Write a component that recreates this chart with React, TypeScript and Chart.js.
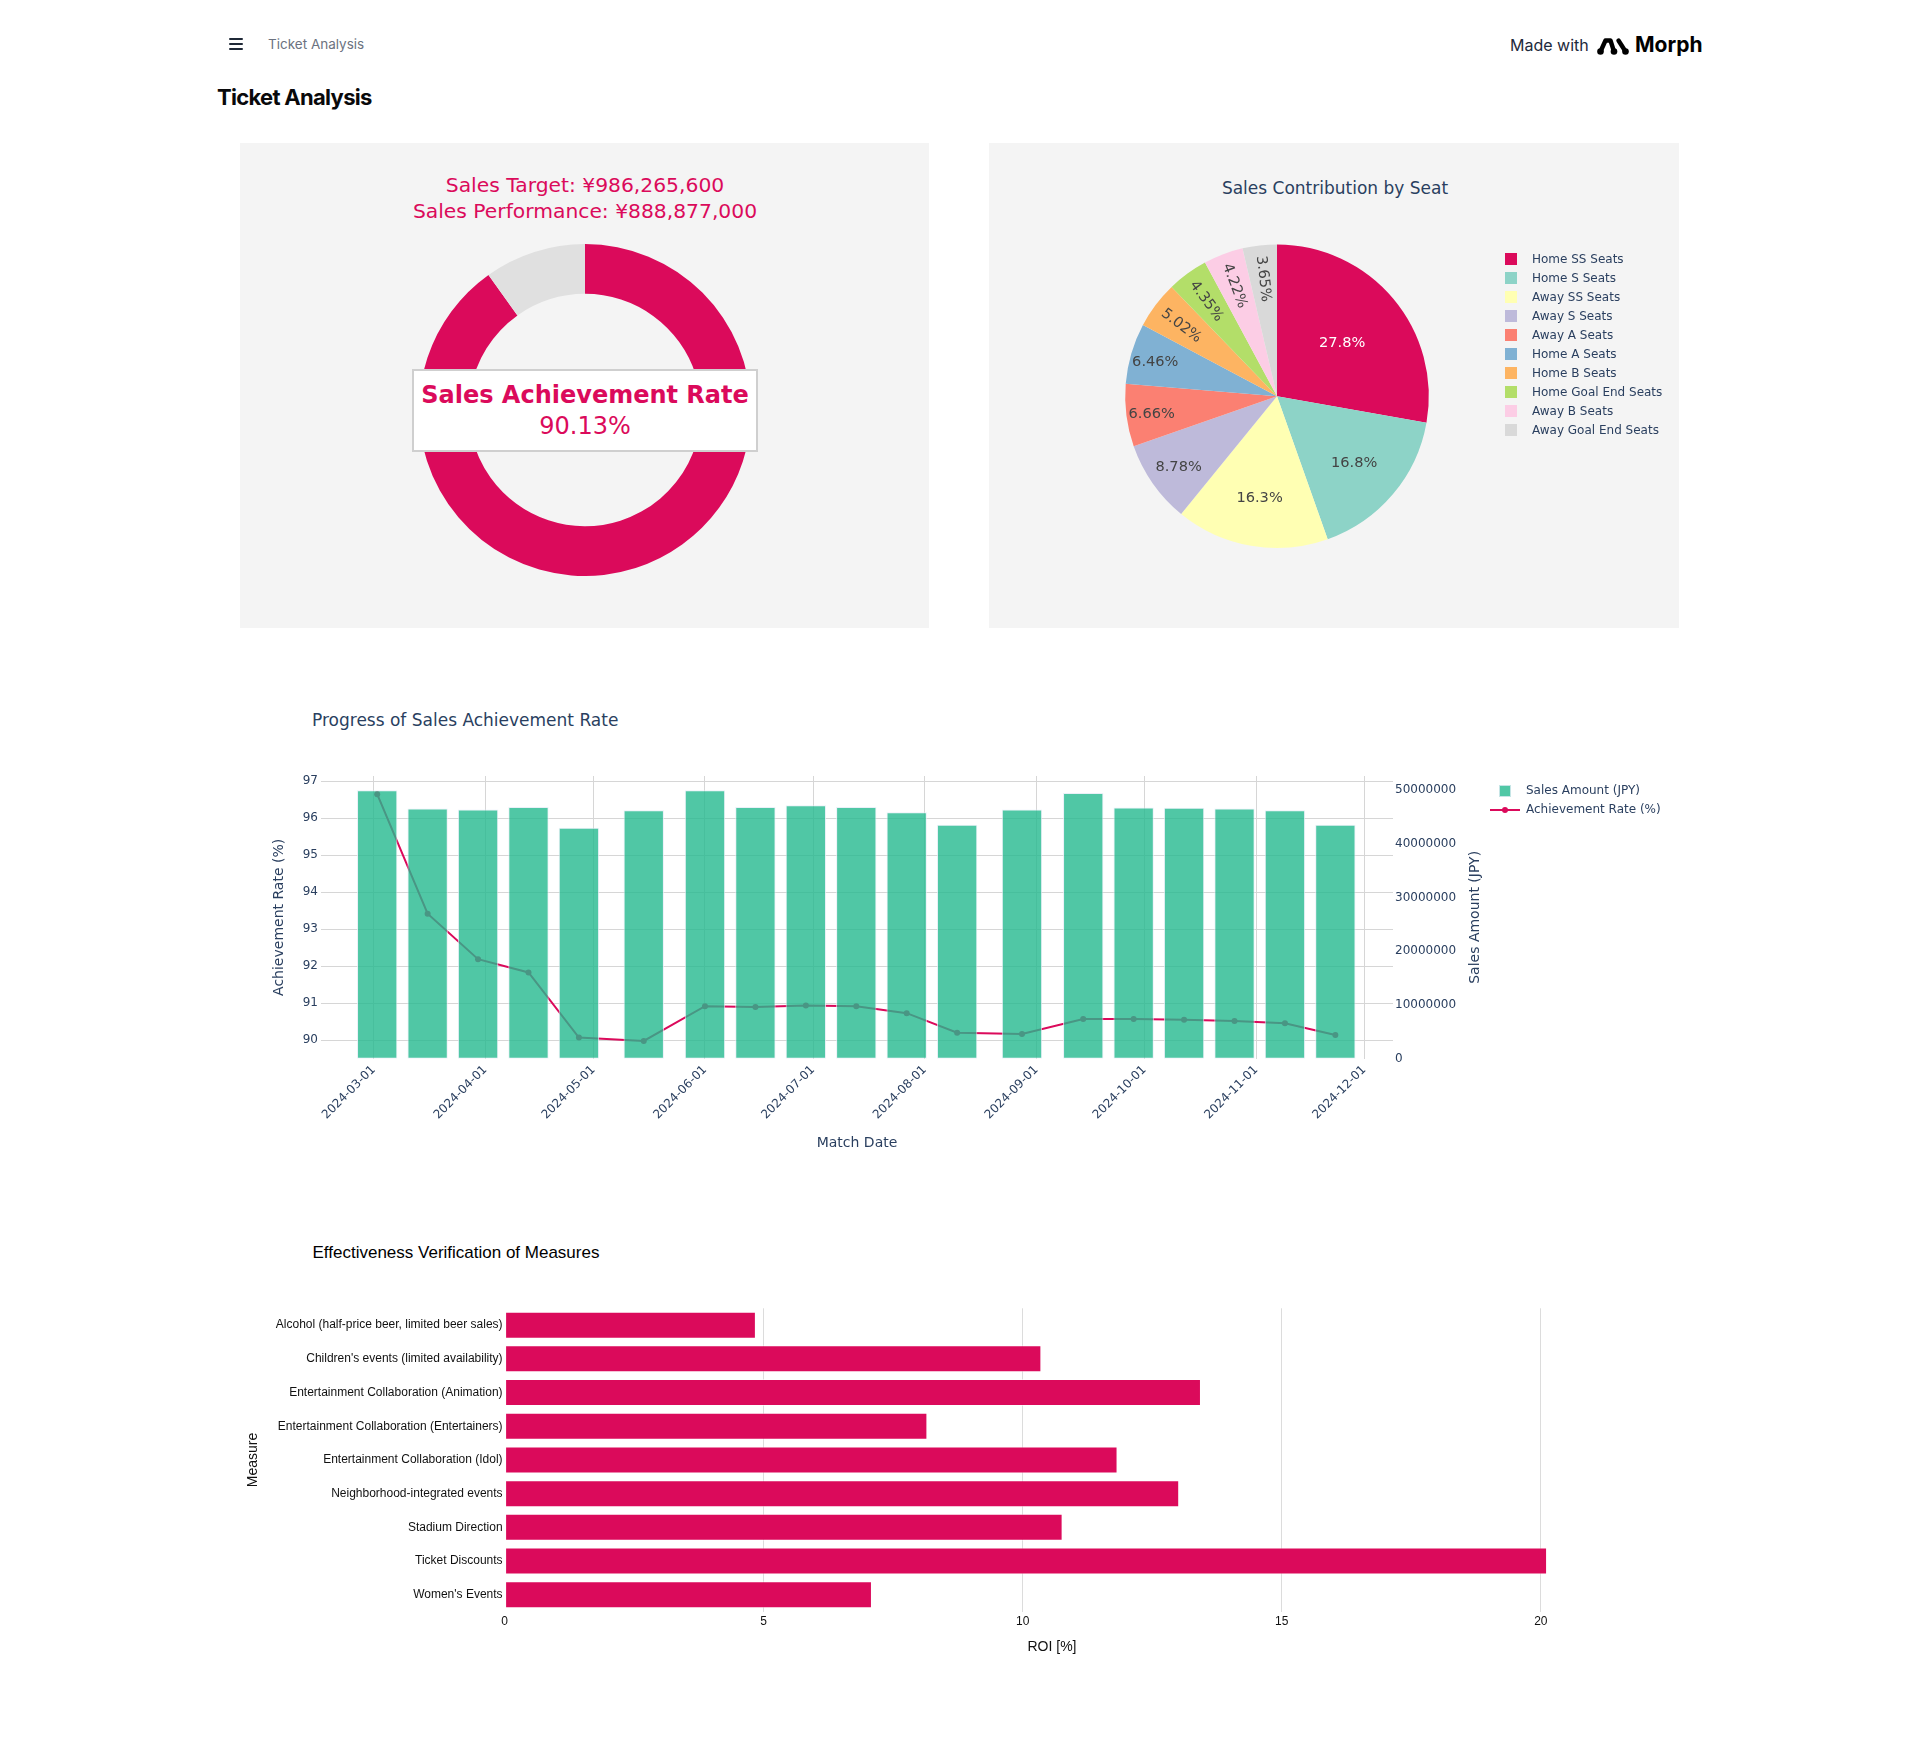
import React, { useEffect, useRef } from 'react';
import { Chart, registerables } from 'chart.js';

Chart.register(...registerables);
Chart.defaults.font.family = '"DejaVu Sans", Verdana, sans-serif';

// ---------- colours / styles ----------
const RED = '#DB0A5B';
const DONUT_REST = '#E0E0E0';
const PLOTLY_TEXT = '#2a3f5f';
const GRID = '#d6d6d6';
const PANEL_BG = '#f4f4f4';
const BAR_TEAL = 'rgba(36,185,143,0.8)';
const BAR_TEAL_EDGE = 'rgba(229,236,246,0.8)';

// ---------- data: sales target ----------
const SALES_TARGET = 986265600;
const SALES_PERFORMANCE = 888877000;

// ---------- data: seat contribution ----------
const SEAT_LABELS = [
  'Home SS Seats',
  'Home S Seats',
  'Away SS Seats',
  'Away S Seats',
  'Away A Seats',
  'Home A Seats',
  'Home B Seats',
  'Home Goal End Seats',
  'Away B Seats',
  'Away Goal End Seats',
];
const SEAT_SHARES = [27.8, 16.8, 16.3, 8.78, 6.66, 6.46, 5.02, 4.35, 4.22, 3.65];
const SEAT_COLORS = [
  '#DB0A5B',
  '#8dd3c7',
  '#ffffb3',
  '#bebada',
  '#fb8072',
  '#80b1d3',
  '#fdb462',
  '#b3de69',
  '#fccde5',
  '#d9d9d9',
];

// ---------- data: progress ----------
const MATCH_DATES = [
  '2024-03-02', '2024-03-16', '2024-03-30', '2024-04-13', '2024-04-27',
  '2024-05-15', '2024-06-01', '2024-06-15', '2024-06-29', '2024-07-13',
  '2024-07-27', '2024-08-10', '2024-08-28', '2024-09-14', '2024-09-28',
  '2024-10-12', '2024-10-26', '2024-11-09', '2024-11-23',
];
const SALES_AMOUNTS = [
  50000000, 46600000, 46400000, 46900000, 43000000,
  46300000, 50000000, 46900000, 47200000, 46900000,
  45900000, 43600000, 46400000, 49500000, 46800000,
  46750000, 46600000, 46300000, 43600000,
];
const ACHIEVEMENT_RATES = [
  96.65, 93.42, 92.19, 91.83, 90.07,
  89.98, 90.92, 90.90, 90.94, 90.92,
  90.73, 90.20, 90.17, 90.57, 90.57,
  90.55, 90.52, 90.46, 90.14,
];
const DATE_TICKS = [
  '2024-03-01', '2024-04-01', '2024-05-01', '2024-06-01', '2024-07-01',
  '2024-08-01', '2024-09-01', '2024-10-01', '2024-11-01', '2024-12-01',
];
const RATE_TICKS = [90, 91, 92, 93, 94, 95, 96, 97];
const AMOUNT_TICKS = [0, 10000000, 20000000, 30000000, 40000000, 50000000];

// ---------- data: measures ----------
const MEASURES = [
  'Alcohol (half-price beer, limited beer sales)',
  "Children's events (limited availability)",
  'Entertainment Collaboration (Animation)',
  'Entertainment Collaboration (Entertainers)',
  'Entertainment Collaboration (Idol)',
  'Neighborhood-integrated events',
  'Stadium Direction',
  'Ticket Discounts',
  "Women's Events",
];
const ROI_VALUES = [4.85, 10.36, 13.44, 8.16, 11.83, 13.02, 10.77, 20.12, 7.09];
const ROI_TICKS = [0, 5, 10, 15, 20];

// ---------- helpers ----------
const dayNum = (s: string) => {
  const [y, m, d] = s.split('-').map(Number);
  return Date.UTC(y, m - 1, d) / 86400000;
};
const fmtDay = (v: number) => new Date(Math.round(v) * 86400000).toISOString().slice(0, 10);
const yen = (v: number) => '¥' + v.toLocaleString('en-US');

function isDark(hex: string) {
  const h = hex.replace('#', '');
  const r = parseInt(h.slice(0, 2), 16), g = parseInt(h.slice(2, 4), 16), b = parseInt(h.slice(4, 6), 16);
  return (0.299 * r + 0.587 * g + 0.114 * b) / 255 < 0.5;
}

function legendSquare(fill: string, stroke?: string) {
  const c = document.createElement('canvas');
  c.width = 30;
  c.height = 12;
  const g = c.getContext('2d')!;
  g.fillStyle = fill;
  g.fillRect(9, 0, 12, 12);
  if (stroke) {
    g.strokeStyle = stroke;
    g.lineWidth = 1;
    g.strokeRect(9.5, 0.5, 11, 11);
  }
  return c;
}
function legendLine(color: string) {
  const c = document.createElement('canvas');
  c.width = 30;
  c.height = 12;
  const g = c.getContext('2d')!;
  g.strokeStyle = color;
  g.lineWidth = 2;
  g.beginPath();
  g.moveTo(0, 6);
  g.lineTo(30, 6);
  g.stroke();
  g.fillStyle = color;
  g.beginPath();
  g.arc(15, 6, 3, 0, Math.PI * 2);
  g.fill();
  return c;
}

function ChartCanvas({ left, top, width, height, config }: any) {
  const ref = useRef<HTMLCanvasElement>(null);
  useEffect(() => {
    const chart = new Chart(ref.current!, config());
    return () => chart.destroy();
  }, []);
  return (
    <div style={{ position: 'absolute', left, top, width, height }}>
      <canvas ref={ref} />
    </div>
  );
}

function Txt({ x, cy, size, children, style, center }: any) {
  const lh = Math.round(size * 1.25);
  return (
    <div
      style={{
        position: 'absolute',
        left: x,
        top: cy - lh / 2,
        fontSize: size,
        lineHeight: lh + 'px',
        whiteSpace: 'nowrap',
        transform: center ? 'translateX(-50%)' : undefined,
        ...style,
      }}
    >
      {children}
    </div>
  );
}

// ---------- chart configs ----------
const achievementRate = (SALES_PERFORMANCE / SALES_TARGET) * 100;

const donutConfig = () => ({
  type: 'doughnut',
  data: {
    labels: ['Sales Performance', 'Remaining'],
    datasets: [
      {
        data: [achievementRate, 100 - achievementRate],
        backgroundColor: [RED, DONUT_REST],
        borderWidth: 0,
      },
    ],
  },
  options: {
    responsive: true,
    maintainAspectRatio: false,
    animation: false,
    events: [],
    cutout: '70%',
    layout: { padding: 0 },
    plugins: { legend: { display: false }, tooltip: { enabled: false } },
  },
});

const pieLabelPlugin = {
  id: 'pieLabels',
  afterDatasetsDraw(chart: any) {
    const meta = chart.getDatasetMeta(0);
    const values = chart.data.datasets[0].data as number[];
    const total = values.reduce((a, b) => a + b, 0);
    const ctx = chart.ctx;
    ctx.save();
    ctx.font = '14.6px "DejaVu Sans"';
    ctx.textAlign = 'center';
    ctx.textBaseline = 'middle';
    meta.data.forEach((el: any, i: number) => {
      const { x, y, startAngle, endAngle, outerRadius } = el.getProps(
        ['x', 'y', 'startAngle', 'endAngle', 'outerRadius'],
        true
      );
      const pct = (values[i] / total) * 100;
      const mid = (startAngle + endAngle) / 2;
      const radial = pct < 6;
      const frac = radial ? 0.79 : 0.976 - 0.0238 * pct + 0.000318 * pct * pct;
      const px = x + Math.cos(mid) * outerRadius * frac;
      const py = y + Math.sin(mid) * outerRadius * frac + 1.8;
      ctx.save();
      ctx.translate(px, py);
      if (radial) {
        let rot = mid;
        if (Math.cos(rot) < 0) rot += Math.PI;
        ctx.rotate(rot);
      }
      ctx.fillStyle = isDark(SEAT_COLORS[i]) ? '#ffffff' : '#444444';
      ctx.fillText(pct.toPrecision(3) + '%', 0, 0);
      ctx.restore();
    });
    ctx.restore();
  },
};

const pieConfig = () => ({
  type: 'pie',
  data: {
    labels: SEAT_LABELS,
    datasets: [{ data: SEAT_SHARES, backgroundColor: SEAT_COLORS, borderWidth: 0 }],
  },
  plugins: [pieLabelPlugin],
  options: {
    responsive: true,
    maintainAspectRatio: false,
    animation: false,
    events: [],
    layout: { padding: { top: 101.4, bottom: 80, left: 76, right: 15 } },
    plugins: {
      tooltip: { enabled: false },
      legend: {
        position: 'right',
        align: 'start',
        maxWidth: 175,
        title: { display: true, text: '', color: PLOTLY_TEXT, font: { size: 1 }, padding: { top: 0.8, bottom: 0 } },
        labels: {
          usePointStyle: true,
          pointStyleWidth: 30,
          boxHeight: 12,
          padding: 7,
          color: PLOTLY_TEXT,
          font: { size: 12, family: '"DejaVu Sans"' },
          generateLabels: () =>
            SEAT_LABELS.map((t, i) => ({
              text: t,
              fontColor: PLOTLY_TEXT,
              fillStyle: SEAT_COLORS[i],
              strokeStyle: SEAT_COLORS[i],
              lineWidth: 0,
              pointStyle: legendSquare(SEAT_COLORS[i]),
              hidden: false,
              index: i,
              datasetIndex: 0,
            })),
        },
      },
    },
  },
});

const rightTitlePlugin = {
  id: 'rightTitle',
  afterDraw(chart: any) {
    const s = chart.scales.y1;
    const a = chart.chartArea;
    const ctx = chart.ctx;
    ctx.save();
    ctx.translate(s.left + 82, (a.top + a.bottom) / 2);
    ctx.rotate(-Math.PI / 2);
    ctx.font = '14px "DejaVu Sans"';
    ctx.fillStyle = PLOTLY_TEXT;
    ctx.textAlign = 'center';
    ctx.textBaseline = 'middle';
    ctx.fillText('Sales Amount (JPY)', 0, 0);
    ctx.restore();
  },
};

const tickFont = { size: 12, family: '"DejaVu Sans"' };
const titleFont = { size: 14, family: '"DejaVu Sans"' };

const progressConfig = () => ({
  type: 'bar',
  data: {
    datasets: [
      {
        type: 'bar',
        label: 'Sales Amount (JPY)',
        data: MATCH_DATES.map((d, i) => ({ x: dayNum(d), y: SALES_AMOUNTS[i] })),
        yAxisID: 'y1',
        backgroundColor: BAR_TEAL,
        borderColor: BAR_TEAL_EDGE,
        borderWidth: 1,
        borderSkipped: false,
        barPercentage: 0.8,
        categoryPercentage: 1,
        order: 0,
      },
      {
        type: 'line',
        label: 'Achievement Rate (%)',
        data: MATCH_DATES.map((d, i) => ({ x: dayNum(d), y: ACHIEVEMENT_RATES[i] })),
        yAxisID: 'y',
        borderColor: RED,
        backgroundColor: RED,
        borderWidth: 2,
        pointRadius: 3,
        pointBackgroundColor: RED,
        pointBorderWidth: 0,
        tension: 0,
        order: 1,
      },
    ],
  },
  plugins: [rightTitlePlugin],
  options: {
    responsive: true,
    maintainAspectRatio: false,
    animation: false,
    events: [],
    layout: { padding: { top: 36, left: 0, right: 17, bottom: 20 } },
    scales: {
      x: {
        type: 'linear',
        offset: false,
        min: dayNum('2024-03-01') - 14.6,
        max: dayNum('2024-12-01') + 8,
        afterBuildTicks: (s: any) => {
          s.ticks = DATE_TICKS.map((d) => ({ value: dayNum(d) }));
        },
        ticks: {
          autoSkip: false,
          minRotation: 45,
          maxRotation: 45,
          padding: 4,
          color: PLOTLY_TEXT,
          font: tickFont,
          callback: (v: number) => fmtDay(v),
        },
        grid: { color: GRID, drawTicks: false, offset: false },
        border: { display: false },
        title: {
          display: true,
          text: 'Match Date',
          color: PLOTLY_TEXT,
          font: titleFont,
          padding: { top: 0, bottom: 8.3 },
        },
        afterFit: (s: any) => {
          s.height = 101.3;
        },
      },
      y: {
        position: 'left',
        min: 89.5,
        max: 97.14,
        afterBuildTicks: (s: any) => {
          s.ticks = RATE_TICKS.map((v) => ({ value: v }));
        },
        ticks: { padding: 3, color: PLOTLY_TEXT, font: tickFont, callback: (v: number) => String(v) },
        grid: { color: GRID, drawTicks: false },
        border: { display: false },
        title: {
          display: true,
          text: 'Achievement Rate (%)',
          color: PLOTLY_TEXT,
          font: titleFont,
          padding: { top: 31.2, bottom: 0 },
        },
        afterFit: (s: any) => {
          s.width = 81;
        },
      },
      y1: {
        position: 'right',
        min: 0,
        max: 52660000,
        afterBuildTicks: (s: any) => {
          s.ticks = AMOUNT_TICKS.map((v) => ({ value: v }));
        },
        ticks: { padding: 2, color: PLOTLY_TEXT, font: tickFont, callback: (v: number) => String(v) },
        grid: { display: false, drawTicks: false },
        border: { display: false },
        afterFit: (s: any) => {
          s.width = 90;
        },
      },
    },
    plugins: {
      tooltip: { enabled: false },
      legend: {
        position: 'right',
        align: 'start',
        maxWidth: 180,
        title: { display: true, text: '', color: PLOTLY_TEXT, font: { size: 1 }, padding: { top: 0.8, bottom: 0 } },
        labels: {
          usePointStyle: true,
          pointStyleWidth: 30,
          boxHeight: 12,
          padding: 7,
          color: PLOTLY_TEXT,
          font: tickFont,
          generateLabels: (chart: any) =>
            chart.data.datasets.map((ds: any, i: number) => ({
              text: ds.label,
              fontColor: PLOTLY_TEXT,
              fillStyle: ds.backgroundColor,
              strokeStyle: ds.borderColor,
              lineWidth: 0,
              pointStyle: ds.type === 'line' ? legendLine(RED) : legendSquare(BAR_TEAL, BAR_TEAL_EDGE),
              hidden: false,
              datasetIndex: i,
            })),
        },
      },
    },
  },
});

const arialTick = { size: 12, family: '"Liberation Sans", Arial, sans-serif' };
const arialTitle = { size: 14, family: '"Liberation Sans", Arial, sans-serif' };

const roiConfig = () => ({
  type: 'bar',
  data: {
    labels: MEASURES,
    datasets: [
      {
        label: 'ROI [%]',
        data: ROI_VALUES,
        backgroundColor: RED,
        borderColor: 'rgba(255,255,255,0.55)',
        borderWidth: 1,
        borderSkipped: false,
        barPercentage: 0.8,
        categoryPercentage: 1,
      },
    ],
  },
  options: {
    indexAxis: 'y',
    responsive: true,
    maintainAspectRatio: false,
    animation: false,
    events: [],
    layout: { padding: { top: 28.3, left: 0, right: 80.6, bottom: 20 } },
    scales: {
      x: {
        min: 0,
        max: 21.13,
        afterBuildTicks: (s: any) => {
          s.ticks = ROI_TICKS.map((v) => ({ value: v }));
        },
        ticks: { padding: 3, color: '#111', font: arialTick, callback: (v: number) => String(v) },
        grid: {
          color: (c: any) => (c.tick && c.tick.value === 0 ? 'rgba(0,0,0,0)' : '#dcdcdc'),
          drawTicks: false,
        },
        border: { display: false },
        title: { display: true, text: 'ROI [%]', color: '#111', font: arialTitle, padding: { top: 0, bottom: 4.3 } },
        afterFit: (s: any) => {
          s.height = 48.4;
        },
      },
      y: {
        ticks: { padding: 2, color: '#111', font: arialTick },
        grid: { display: false, drawTicks: false },
        border: { display: false },
        title: { display: true, text: 'Measure', color: '#111', font: arialTitle, padding: { top: 4.8, bottom: 0 } },
        afterFit: (s: any) => {
          s.width = 264.6;
        },
      },
    },
    plugins: { legend: { display: false }, tooltip: { enabled: false } },
  },
});

// ---------- page ----------
function MorphLogo() {
  return (
    <svg
      width={32}
      height={18}
      viewBox="0 0 32 18"
      style={{ position: 'absolute', left: 1597, top: 37 }}
    >
      <g stroke="#000" strokeWidth={4.4} strokeLinecap="round" strokeLinejoin="round" fill="none">
        <polyline points="3.5,14.5 8.5,3.5 13.5,3.5 17,14.5" />
        <polyline points="21.5,3.5 28.5,14.5" />
      </g>
      <g fill="#000">
        <circle cx={3.5} cy={14.5} r={3.3} />
        <circle cx={17} cy={14.5} r={3.3} />
        <circle cx={28.5} cy={14.5} r={3.3} />
      </g>
    </svg>
  );
}

export default function App() {
  const dejavu = '"DejaVu Sans", Verdana, sans-serif';
  const inter = 'Inter, "Noto Sans", sans-serif';
  const arial = '"Liberation Sans", Arial, sans-serif';
  return (
    <div
      style={{
        position: 'absolute',
        left: 0,
        top: 0,
        width: 1920,
        height: 1740,
        background: '#ffffff',
        fontFamily: inter,
        overflow: 'hidden',
      }}
    >
      {/* header */}
      {[38, 43, 48].map((t) => (
        <div key={t} style={{ position: 'absolute', left: 229, top: t, width: 14, height: 2, background: '#1f2937', borderRadius: 1 }} />
      ))}
      <Txt x={268} cy={44} size={13.5} style={{ color: '#6b7280', fontFamily: inter }}>
        Ticket Analysis
      </Txt>
      <Txt x={1510} cy={45} size={16} style={{ color: '#1e293b', fontFamily: inter }}>
        Made with
      </Txt>
      <MorphLogo />
      <Txt x={1635} cy={45} size={21} style={{ color: '#000', fontFamily: inter, fontWeight: 700 }}>
        Morph
      </Txt>
      <Txt x={217} cy={97} size={22} style={{ color: '#09090b', fontFamily: inter, fontWeight: 700, letterSpacing: '-0.7px' }}>
        Ticket Analysis
      </Txt>

      {/* panel 1: donut */}
      <div style={{ position: 'absolute', left: 240, top: 143, width: 689, height: 485, background: PANEL_BG }} />
      <Txt x={585} cy={185} size={20.3} center style={{ color: RED, fontFamily: dejavu }}>
        {'Sales Target: ' + yen(SALES_TARGET)}
      </Txt>
      <Txt x={585} cy={211} size={20.3} center style={{ color: RED, fontFamily: dejavu }}>
        {'Sales Performance: ' + yen(SALES_PERFORMANCE)}
      </Txt>
      <ChartCanvas left={419} top={244} width={332} height={332} config={donutConfig} />
      <div
        style={{
          position: 'absolute',
          left: 412,
          top: 369,
          width: 346,
          height: 83,
          boxSizing: 'border-box',
          border: '2px solid #cfcfcf',
          background: '#ffffff',
          display: 'flex',
          flexDirection: 'column',
          alignItems: 'center',
          justifyContent: 'center',
          color: RED,
          fontFamily: dejavu,
          fontSize: 24,
          lineHeight: '30px',
        }}
      >
        <div style={{ fontWeight: 700 }}>Sales Achievement Rate</div>
        <div style={{ marginTop: 1 }}>{achievementRate.toFixed(2) + '%'}</div>
      </div>

      {/* panel 2: pie */}
      <div style={{ position: 'absolute', left: 989, top: 143, width: 690, height: 485, background: PANEL_BG }} />
      <Txt x={1335} cy={188} size={17} center style={{ color: PLOTLY_TEXT, fontFamily: dejavu }}>
        Sales Contribution by Seat
      </Txt>
      <ChartCanvas left={989} top={143} width={690} height={485} config={pieConfig} />

      {/* progress chart */}
      <Txt x={312} cy={720} size={17} style={{ color: PLOTLY_TEXT, fontFamily: dejavu }}>
        Progress of Sales Achievement Rate
      </Txt>
      <ChartCanvas left={240} top={740} width={1440} height={440} config={progressConfig} />

      {/* measures chart */}
      <Txt x={312.5} cy={1252.3} size={17} style={{ color: '#000', fontFamily: arial }}>
        Effectiveness Verification of Measures
      </Txt>
      <ChartCanvas left={240} top={1280} width={1440} height={400} config={roiConfig} />
    </div>
  );
}
